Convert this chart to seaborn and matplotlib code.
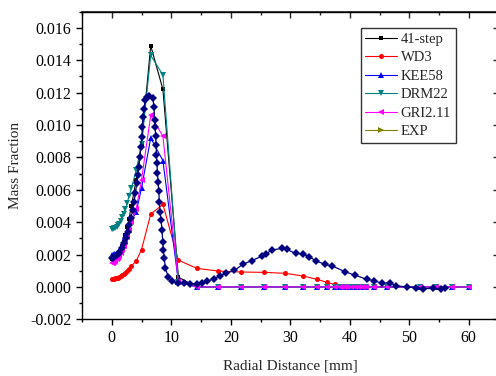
import numpy as np
import pandas as pd
import seaborn as sns
import matplotlib
matplotlib.use("Agg")
import matplotlib.pyplot as plt
from matplotlib.lines import Line2D
from matplotlib.ticker import MultipleLocator, FormatStrFormatter

# ---------------- data ----------------
x_model = [0, 0.2, 0.4, 0.6, 0.8, 1.0, 1.25, 1.5, 1.75, 2.0, 2.3, 2.6, 2.9, 3.3, 4.1, 5.0, 6.55, 8.6,
           11.2, 14.3, 17.9, 21.8, 25.6, 29.2, 32.2, 34.5, 36.2, 37.5, 38.4, 39.0, 39.6, 40.2, 40.8,
           41.4, 42.0, 42.8, 44.0, 46.2, 51.8, 54.5, 57.2, 60.0]

y_41step = [0.0017, 0.0017, 0.00175, 0.0018, 0.0019, 0.002, 0.0021, 0.0023, 0.0025, 0.0028, 0.0032,
            0.0037, 0.0042, 0.005, 0.0066, 0.0088, 0.0149, 0.0122,
            0.0006] + [0.0] * 23
y_wd3 = [0.0005, 0.0005, 0.00051, 0.00053, 0.00055, 0.00058, 0.00062, 0.00067, 0.00073, 0.0008,
         0.00088, 0.00098, 0.0011, 0.0013, 0.0016, 0.0023, 0.0045, 0.0051,
         0.00165, 0.00115, 0.00098, 0.00092, 0.0009, 0.00084, 0.00067, 0.00047, 0.00028, 0.00015,
         0.00008, 0.00005, 0.00003, 0.00002, 0.00001, 0, 0, 0, 0, 0, 0, 0, 0, 0]
y_kee58 = [0.002, 0.002, 0.00202, 0.00205, 0.0021, 0.00215, 0.0022, 0.0024, 0.0026, 0.0028, 0.0031,
           0.0034, 0.0037, 0.0041, 0.0046, 0.0061, 0.0092, 0.0078,
           0.0003] + [0.0] * 23
y_drm22 = [0.0036, 0.0036, 0.00362, 0.00367, 0.0037, 0.0038, 0.0039, 0.0041, 0.0043, 0.0045, 0.0048,
           0.0052, 0.0056, 0.0061, 0.0072, 0.0088, 0.0143, 0.0131,
           0.0003] + [0.0] * 23
y_gri211 = [0.0015, 0.0015, 0.00155, 0.0016, 0.0017, 0.0018, 0.0019, 0.0021, 0.0023, 0.0025, 0.0028,
            0.0031, 0.0035, 0.004, 0.0048, 0.0066, 0.0106, 0.0093,
            0.0003] + [0.0] * 23

x_exp = [0, 0.27, 0.84, 1.28, 1.68, 2.07, 2.4, 2.69, 2.96, 3.2, 3.53, 3.75, 3.97, 4.2, 4.37, 4.54,
         4.76, 4.87, 5.04, 5.15, 5.2, 5.43, 5.6, 6.0, 6.32,
         6.9, 7.1, 7.2, 7.3, 7.38, 7.45, 7.52, 7.6, 7.68, 7.78, 7.9, 8.0, 8.12, 8.29, 8.45, 8.57,
         8.67, 8.84, 9.0, 9.5, 10.1, 11.2,
         12.2, 13.2, 14.3, 15.1, 16.0, 17.2, 18.2, 19.2, 20.6, 22.1, 23.5, 25.3, 25.9, 26.9, 28.6,
         29.4, 30.9, 32.2, 33.2, 34.4, 35.8, 37.1, 39.2, 40.9, 42.9, 44.1, 45.5, 46.8, 47.8, 49.6,
         51.1, 52.3, 54.0, 55.3, 56.0]
y_exp = [0.00176, 0.0018, 0.00197, 0.00211, 0.00238, 0.00269, 0.003, 0.00341, 0.00382, 0.00423,
         0.00475, 0.00526, 0.00578, 0.0064, 0.00691, 0.00742, 0.00804, 0.00865, 0.00923, 0.00989,
         0.0105, 0.011, 0.01154, 0.01174, 0.01178,
         0.01164, 0.01113, 0.0103, 0.00985, 0.0093, 0.00876, 0.00814, 0.00763, 0.00705, 0.0065,
         0.00592, 0.00526, 0.00464, 0.00413, 0.00351, 0.00279, 0.00228, 0.00177, 0.00115, 0.00063,
         0.00036, 0.00022,
         0.00022, 0.0002, 0.0002, 0.00026, 0.00036, 0.00049, 0.00069, 0.00084, 0.00102, 0.00141,
         0.00162, 0.00191, 0.00203, 0.00228, 0.00238, 0.00232, 0.00207, 0.00203, 0.00186, 0.0016,
         0.0014, 0.00129, 0.00094, 0.00072, 0.00047, 0.00038, 0.00022, 0.00026, 0.00006, 0.00001,
         -0.00005, -0.00011, -0.00009, -0.00015, -0.00009]

labels = ["41-step", "WD3", "KEE58", "DRM22", "GRI2.11", "EXP"]

# ---------------- style ----------------
sns.set_theme(style="ticks")
plt.rcParams["font.family"] = ["Liberation Serif", "DejaVu Serif"]
plt.rcParams["axes.unicode_minus"] = False

fig = plt.figure(figsize=(4.96, 3.76), dpi=100)
ax = fig.add_axes([82 / 496, (376 - 319.3) / 376, 416.5 / 496, 307.6 / 376])

series = [
    (y_41step, "black", "s", 3.4),
    (y_wd3, "red", "o", 3.6),
    (y_kee58, "blue", "^", 4.0),
    (y_drm22, "#008080", "v", 4.0),
    (y_gri211, "magenta", "<", 4.0),
]
handles = []
for (ys, col, mk, ms), lab in zip(series, labels[:5]):
    df = pd.DataFrame({"x": x_model, "y": ys})
    sns.lineplot(data=df, x="x", y="y", ax=ax, color=col, marker=mk, markersize=ms,
                 markeredgewidth=0, linewidth=0.8, estimator=None, sort=False, legend=False)
    handles.append(Line2D([], [], color=col, marker=mk, markersize=ms, markeredgewidth=0,
                          linewidth=0.8, label=lab))

df_exp = pd.DataFrame({"x": x_exp, "y": y_exp})
sns.lineplot(data=df_exp, x="x", y="y", ax=ax, color="#000080", marker="D", markersize=3.6,
             markeredgewidth=0, linewidth=0.9, estimator=None, sort=False, legend=False)
handles.append(Line2D([], [], color="#808000", marker=">", markersize=4.0, markeredgewidth=0,
                      linewidth=0.8, label=labels[5]))

ax.set_xlim(-5, 65)
ax.set_ylim(-0.002, 0.017)
ax.xaxis.set_major_locator(MultipleLocator(10))
ax.xaxis.set_minor_locator(MultipleLocator(5))
ax.yaxis.set_major_locator(MultipleLocator(0.002))
ax.yaxis.set_minor_locator(MultipleLocator(0.001))
ax.yaxis.set_major_formatter(FormatStrFormatter("%.3f"))

ax.tick_params(axis="both", which="major", direction="out", length=4, width=1,
               labelsize=11.5, color="black", labelcolor="black")
ax.tick_params(axis="both", which="minor", direction="out", length=2, width=1, color="black")
# mirrored inward ticks on top/right
axt = ax.secondary_xaxis("top")
axt.xaxis.set_major_locator(MultipleLocator(10))
axt.xaxis.set_minor_locator(MultipleLocator(5))
axt.tick_params(which="major", direction="in", length=4, width=1, labeltop=False)
axt.tick_params(which="minor", direction="in", length=2, width=1)
axr = ax.secondary_yaxis("right")
axr.yaxis.set_major_locator(MultipleLocator(0.002))
axr.yaxis.set_minor_locator(MultipleLocator(0.001))
axr.tick_params(which="major", direction="in", length=4, width=1, labelright=False)
axr.tick_params(which="minor", direction="in", length=2, width=1)

for s in ax.spines.values():
    s.set_visible(True)
    s.set_color("black")
    s.set_linewidth(1.0)

ax.set_xlabel("Radial Distance [mm]", fontsize=11, labelpad=10)
ax.set_ylabel("Mass Fraction", fontsize=11, labelpad=6)

leg = ax.legend(handles=handles, loc="upper right", bbox_to_anchor=(0.897, 0.946),
                borderaxespad=0, fontsize=10.5, frameon=True, fancybox=False,
                edgecolor="black", handlelength=2.2, handletextpad=0.25, labelspacing=0.36,
                borderpad=0.3)
leg.get_frame().set_linewidth(1.0)

fig.savefig("out.png", dpi=100)
